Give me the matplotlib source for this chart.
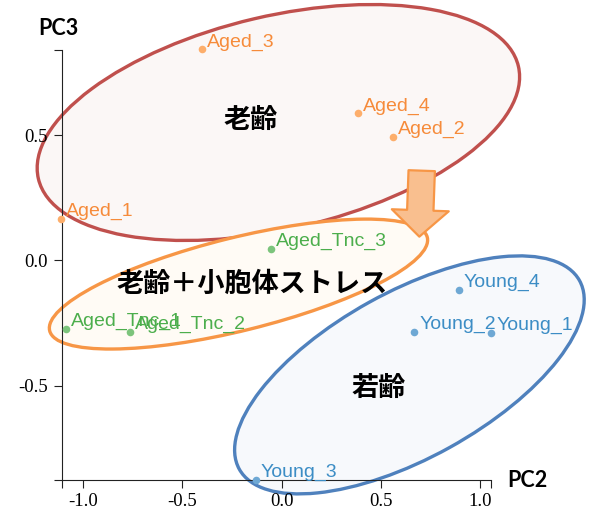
import matplotlib
matplotlib.use("Agg")
import numpy as np
from matplotlib import pyplot as plt
from matplotlib.patches import Ellipse, FancyArrowPatch
from matplotlib.transforms import IdentityTransform

plt.rcParams['font.family'] = ['Liberation Sans', 'Noto Sans CJK JP', 'DejaVu Sans']

# datos (PC2, PC3)
aged_names = ['Aged_1', 'Aged_2', 'Aged_3', 'Aged_4']
aged_pc2 = [-1.112, 0.562, -0.402, 0.384]
aged_pc3 = [0.164, 0.491, 0.841, 0.586]

tnc_names = ['Aged_Tnc_1', 'Aged_Tnc_2', 'Aged_Tnc_3']
tnc_pc2 = [-1.086, -0.763, -0.054]
tnc_pc3 = [-0.273, -0.284, 0.047]

young_names = ['Young_1', 'Young_2', 'Young_3', 'Young_4']
young_pc2 = [1.057, 0.669, -0.130, 0.893]
young_pc3 = [-0.290, -0.284, -0.875, -0.118]

x_ticks = [-1.0, -0.5, 0.0, 0.5, 1.0]
y_ticks = [-0.5, 0.0, 0.5]
x_lim = (-1.106, 1.055)
y_lim = (-0.875, 0.839)

# grupos: etiqueta, centro (datos), ancho/alto en px, angulo, colores
group_labels = ['老齢', '老齢＋小胞体ストレス', '若齢']
group_centers = [(-0.016, 0.550), (-0.217, -0.094), (0.644, -0.456)]
group_sizes = [(493, 213), (389, 93), (389, 166)]
group_angles = [13.2, 13.9, 29.0]
group_edge = ['#c0504d', '#f79646', '#4f81bd']
group_face = ['#fbf7f6', '#fffbf5', '#f7f9fc']
group_text_pos = [(-0.158, 0.555), (-0.148, -0.092), (0.489, -0.507)]

arrow_start = (0.706, 0.358)
arrow_end = (0.694, 0.095)

fig = plt.figure(figsize=(5.97, 5.22), dpi=100)
ax = fig.add_axes([62/597, 42/522, 429/597, 430/522])
ax.set_xlim(*x_lim)
ax.set_ylim(*y_lim)

# elipses en coordenadas de pantalla para que no se deformen
for c, (w, h), ang, ec, fc in zip(group_centers, group_sizes, group_angles, group_edge, group_face):
    cx, cy = ax.transData.transform(c)
    e = Ellipse((cx, cy), w, h, angle=ang, transform=IdentityTransform(),
                facecolor=fc, edgecolor=ec, linewidth=2.4, zorder=1, clip_on=False)
    ax.add_patch(e)

arrow = FancyArrowPatch(arrow_start, arrow_end,
                        arrowstyle='simple,head_width=41,head_length=19,tail_width=19',
                        mutation_scale=1, shrinkA=0, shrinkB=0,
                        facecolor='#f9bf8f', edgecolor='#f79646', linewidth=1.6,
                        zorder=2, clip_on=False)
ax.add_patch(arrow)

series = [
    (aged_names, aged_pc2, aged_pc3, '#fdae6b', '#f68b3a'),
    (tnc_names, tnc_pc2, tnc_pc3, '#7cc47c', '#4cae4c'),
    (young_names, young_pc2, young_pc3, '#6ea8d4', '#3c8dc5'),
]
for names, xs, ys, pc, tc in series:
    ax.scatter(xs, ys, s=30, color=pc, zorder=3, clip_on=False, linewidths=0)
    for n, x, y in zip(names, xs, ys):
        ax.annotate(n, (x, y), xytext=(3.6, 2.2), textcoords='offset points',
                    ha='left', va='baseline', color=tc, fontsize=14,
                    family=['Liberation Sans'], zorder=4, annotation_clip=False)

for lab, pos in zip(group_labels, group_text_pos):
    ax.text(pos[0], pos[1], lab, ha='center', va='center', fontsize=19.5,
            fontweight='bold', family=['Noto Sans CJK JP', 'DejaVu Sans'],
            color='black', zorder=5)

# ejes estilo d3
for s in ['top', 'right']:
    ax.spines[s].set_visible(False)
for s in ['left', 'bottom']:
    ax.spines[s].set_color('#222222')
    ax.spines[s].set_linewidth(0.8)
ax.set_xticks(x_ticks)
ax.set_xticklabels(['%.1f' % v for v in x_ticks])
ax.set_yticks(y_ticks)
ax.set_yticklabels(['%.1f' % v for v in y_ticks])
ax.set_xticks(list(x_lim), minor=True)
ax.set_yticks(list(y_lim), minor=True)
ax.tick_params(which='both', direction='out', length=5.8, width=0.8, color='#222222')
ax.tick_params(axis='x', which='major', pad=3.6)
ax.tick_params(axis='y', which='major', pad=4.3)
for t in ax.get_xticklabels() + ax.get_yticklabels():
    t.set_family(['Liberation Serif'])
    t.set_fontsize(13.5)

ax.text(-0.008, 1.049, 'PC3', transform=ax.transAxes, ha='center', va='center',
        fontsize=15.5, fontweight='bold', family=['Lato', 'Liberation Sans'])
ax.text(1.084, -0.002, 'PC2', transform=ax.transAxes, ha='center', va='center',
        fontsize=15.5, fontweight='bold', family=['Lato', 'Liberation Sans'])

fig.savefig('out.png', dpi=100)
